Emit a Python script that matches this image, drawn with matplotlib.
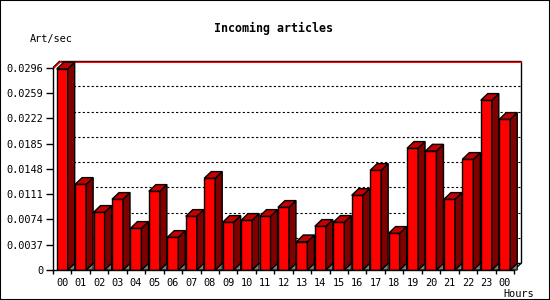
import matplotlib
matplotlib.use('Agg')
import matplotlib.pyplot as plt
from matplotlib.patches import Polygon, Rectangle
import numpy as np

hours = ["00", "01", "02", "03", "04", "05", "06", "07", "08", "09", "10", "11",
         "12", "13", "14", "15", "16", "17", "18", "19", "20", "21", "22", "23", "00"]
rate = [0.0294, 0.01253, 0.00844, 0.01034, 0.0061, 0.01151, 0.00478, 0.00785,
        0.01341, 0.00698, 0.00727, 0.00785, 0.00917, 0.00414, 0.00639, 0.00698,
        0.01092, 0.01458, 0.00537, 0.0178, 0.0174, 0.01034, 0.01619, 0.02482, 0.02204]
ytick_vals = [0, 0.0037, 0.0074, 0.0111, 0.0148, 0.0185, 0.0222, 0.0259, 0.0296]
ytick_labels = ["0", "0.0037", "0.0074", "0.0111", "0.0148", "0.0185", "0.0222", "0.0259", "0.0296"]

FONT = "DejaVu Sans Mono"
W, H = 550, 300
fig = plt.figure(figsize=(W / 100, H / 100), dpi=100)
fig.patches.append(Rectangle((0, 0), 1, 1, transform=fig.transFigure, fill=False,
                             edgecolor='black', linewidth=1.5))

ax_l, ax_b, ax_w, ax_h = 53, 30, 461, 202.4
ax = fig.add_axes([ax_l / W, ax_b / H, ax_w / W, ax_h / H])
n = len(rate)
ymax = ytick_vals[-1]
ax.set_xlim(0, n)
ax.set_ylim(0, ymax)
ax.patch.set_visible(False)

dx = 7 / ax_w * n
dy = 6.7 / ax_h * ymax

# back plane
for v in ytick_vals[1:-1]:
    ax.plot([dx, n + dx], [v + dy, v + dy], color='black', lw=0.8,
            ls=(0, (2, 2)), clip_on=False, zorder=1)
lk = dict(color='black', lw=1, clip_on=False, zorder=1, solid_capstyle='butt')
ax.plot([dx, n + dx], [ymax + dy, ymax + dy], **lk)
ax.plot([n + dx, n + dx], [dy, ymax + dy], **lk)
ax.plot([0, dx], [ymax, ymax + dy], **lk)
ax.plot([n, n + dx], [0, dy], **lk)
ax.plot([dx, n + dx], [dy, dy], **lk)
mx = max(rate)
ax.plot([0, dx, n + dx], [mx, mx + dy, mx + dy], color='red', lw=1, clip_on=False, zorder=2)

# bars
x0 = np.arange(n) + 0.2
bw = 11 / ax_w * n
ax.bar(x0, rate, width=bw, align='edge', color='#ff0000', edgecolor='black',
       linewidth=1, zorder=4)
for xi, h in zip(x0, rate):
    xr = xi + bw
    ax.add_patch(Polygon([(xr, 0), (xr + dx, dy), (xr + dx, 0)], closed=True,
                         facecolor='#808080', edgecolor='black', lw=0.8, zorder=3, clip_on=False))
    ax.add_patch(Polygon([(xr, 0), (xr, h), (xr + dx, h + dy), (xr + dx, dy)], closed=True,
                         facecolor='#800000', edgecolor='black', lw=1, zorder=4, clip_on=False))
    ax.add_patch(Polygon([(xi, h), (xi + dx, h + dy), (xr + dx, h + dy), (xr, h)], closed=True,
                         facecolor='#c40000', edgecolor='black', lw=1, zorder=4, clip_on=False))

for s in ['top', 'right']:
    ax.spines[s].set_visible(False)
for s in ['left', 'bottom']:
    ax.spines[s].set_linewidth(1)
    ax.spines[s].set_zorder(5)

ax.set_yticks(ytick_vals, ytick_labels)
ax.tick_params(axis='y', length=5, width=1, pad=2, labelsize=7.4)
ax.set_xticks(np.arange(n) + 0.5, hours)
ax.set_xticks(np.arange(n + 1), minor=True)
ax.tick_params(axis='x', which='major', length=0, pad=6, labelsize=7.4)
ax.tick_params(axis='x', which='minor', length=3, width=1)
for lab in ax.get_xticklabels() + ax.get_yticklabels():
    lab.set_family(FONT)

fig.text(274 / W, 1 - 28 / H, "Incoming articles", ha='center', va='center',
         family=FONT, fontweight='bold', fontsize=8.4)
fig.text(30 / W, 1 - 39 / H, "Art/sec", ha='left', va='center', family=FONT, fontsize=7.4)
fig.text(534 / W, 1 - 294 / H, "Hours", ha='right', va='center', family=FONT, fontsize=7.4)

fig.savefig("out.png", dpi=100)
